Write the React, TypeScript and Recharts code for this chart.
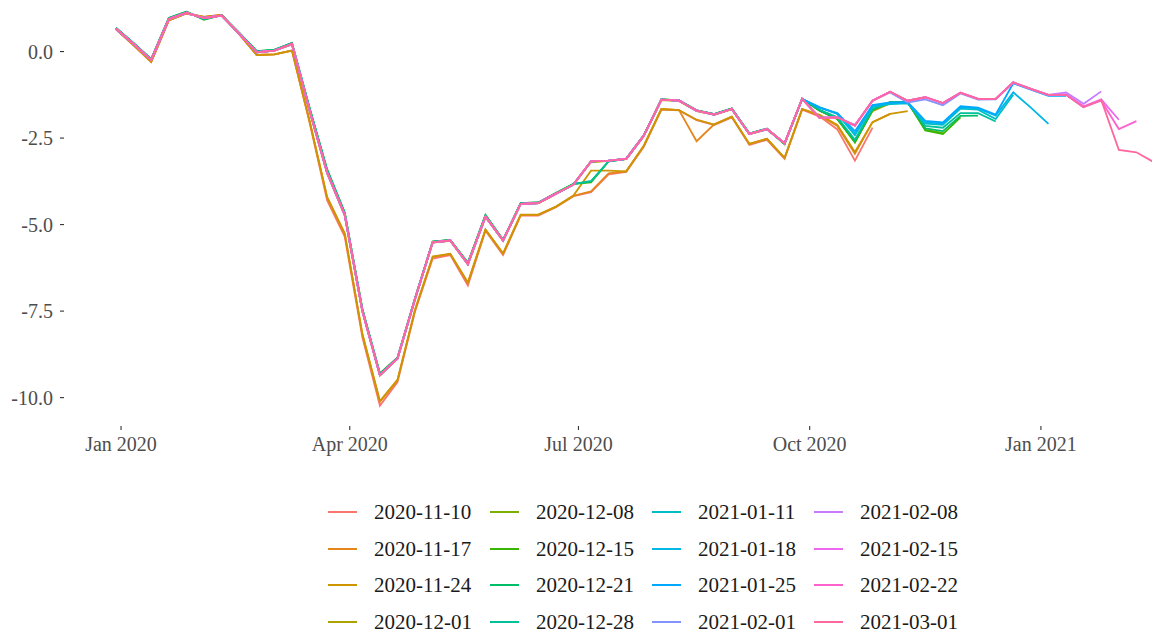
import React from 'react';
import { LineChart, Line, XAxis, YAxis } from 'recharts';

const WEEKS = [
  '2019-12-30', '2020-01-06', '2020-01-13', '2020-01-20', '2020-01-27', '2020-02-03', '2020-02-10', '2020-02-17',
  '2020-02-24', '2020-03-02', '2020-03-09', '2020-03-16', '2020-03-23', '2020-03-30', '2020-04-06', '2020-04-13',
  '2020-04-20', '2020-04-27', '2020-05-04', '2020-05-11', '2020-05-18', '2020-05-25', '2020-06-01', '2020-06-08',
  '2020-06-15', '2020-06-22', '2020-06-29', '2020-07-06', '2020-07-13', '2020-07-20', '2020-07-27', '2020-08-03',
  '2020-08-10', '2020-08-17', '2020-08-24', '2020-08-31', '2020-09-07', '2020-09-14', '2020-09-21', '2020-09-28',
  '2020-10-05', '2020-10-12', '2020-10-19', '2020-10-26', '2020-11-02', '2020-11-09', '2020-11-16', '2020-11-23',
  '2020-11-30', '2020-12-07', '2020-12-14', '2020-12-21', '2020-12-28', '2021-01-04', '2021-01-11', '2021-01-18',
  '2021-01-25', '2021-02-01', '2021-02-08', '2021-02-15',
];

const VINTAGES = [
  '2020-11-10', '2020-11-17', '2020-11-24', '2020-12-01',
  '2020-12-08', '2020-12-15', '2020-12-21', '2020-12-28',
  '2021-01-11', '2021-01-18', '2021-01-25', '2021-02-01',
  '2021-02-08', '2021-02-15', '2021-02-22', '2021-03-01',
];

const COLORS = [
  '#F8766D', '#E5861A', '#CD9600', '#ABA300',
  '#7CAE00', '#39B600', '#00BE67', '#00C19A',
  '#00BFC4', '#00B7E5', '#00A9FF', '#8494FF',
  '#C77CFF', '#EC69EF', '#FF61CC', '#FD689F',
];

const V_2020_11_10 = [0.64, 0.18, -0.3, 0.9, 1.1, 1.0, 1.06, 0.5, -0.1, -0.08, 0.03, -2.05, -4.3, -5.35, -8.25, -10.23, -9.55, -7.5, -5.98, -5.88, -6.76, -5.18, -5.88, -4.74, -4.74, -4.5, -4.18, -4.06, -3.55, -3.48, -2.75, -1.68, -1.7, -1.98, -2.12, -1.9, -2.7, -2.55, -3.1, -1.68, -1.88, -2.25, -3.15, -2.2];
const V_2020_11_17 = [0.65, 0.19, -0.29, 0.91, 1.1, 1.0, 1.06, 0.5, -0.1, -0.08, 0.03, -2.0, -4.22, -5.27, -8.17, -10.12, -9.5, -7.46, -5.93, -5.85, -6.68, -5.15, -5.84, -4.72, -4.72, -4.49, -4.17, -4.04, -3.52, -3.46, -2.72, -1.66, -1.69, -2.59, -2.1, -1.88, -2.67, -2.52, -3.07, -1.66, -1.85, -2.15, -2.95, -2.04, -1.8];
const V_2020_11_24 = [0.64, 0.18, -0.3, 0.9, 1.1, 1.0, 1.06, 0.5, -0.1, -0.08, 0.03, -2.0, -4.2, -5.25, -8.15, -10.1, -9.48, -7.45, -5.92, -5.84, -6.67, -5.14, -5.83, -4.71, -4.71, -4.48, -4.16, -3.44, -3.44, -3.46, -2.72, -1.66, -1.69, -1.97, -2.11, -1.88, -2.67, -2.52, -3.07, -1.66, -1.83, -2.12, -2.9, -2.04, -1.8, -1.72];
const V_2020_12_01 = [0.66, 0.22, -0.24, 0.94, 1.12, 0.98, 1.05, 0.52, 0.0, 0.03, 0.2, -1.72, -3.52, -4.74, -7.5, -9.36, -8.88, -7.15, -5.52, -5.47, -6.15, -4.78, -5.47, -4.41, -4.39, -4.12, -3.84, -3.2, -3.16, -3.11, -2.44, -1.4, -1.43, -1.72, -1.83, -1.67, -2.39, -2.25, -2.66, -1.37, -1.71, -1.95, -2.6, -1.72, -1.5, -1.48, -2.22];
const V_2020_12_08 = [0.67, 0.23, -0.23, 0.95, 1.13, 0.96, 1.05, 0.53, 0.0, 0.04, 0.22, -1.68, -3.48, -4.7, -7.46, -9.33, -8.86, -7.13, -5.5, -5.45, -6.12, -4.75, -5.45, -4.39, -4.37, -4.1, -3.83, -3.18, -3.15, -3.1, -2.42, -1.38, -1.41, -1.7, -1.81, -1.65, -2.37, -2.23, -2.66, -1.37, -1.71, -1.95, -2.62, -1.69, -1.46, -1.46, -2.26, -2.35];
const V_2020_12_15 = [0.68, 0.24, -0.22, 0.97, 1.15, 0.92, 1.05, 0.54, 0.01, 0.05, 0.25, -1.62, -3.4, -4.65, -7.43, -9.3, -8.84, -7.12, -5.49, -5.44, -6.1, -4.72, -5.44, -4.38, -4.36, -4.09, -3.82, -3.78, -3.17, -3.1, -2.42, -1.38, -1.41, -1.7, -1.81, -1.65, -2.37, -2.23, -2.68, -1.37, -1.71, -1.95, -2.62, -1.69, -1.46, -1.46, -2.28, -2.38, -1.9];
const V_2020_12_21 = [0.68, 0.24, -0.22, 0.97, 1.15, 0.93, 1.05, 0.54, 0.01, 0.05, 0.25, -1.63, -3.42, -4.66, -7.44, -9.31, -8.85, -7.12, -5.49, -5.44, -6.11, -4.73, -5.44, -4.38, -4.36, -4.09, -3.82, -3.76, -3.17, -3.1, -2.42, -1.38, -1.41, -1.7, -1.81, -1.65, -2.37, -2.23, -2.67, -1.37, -1.7, -1.93, -2.58, -1.68, -1.47, -1.46, -2.22, -2.3, -1.86, -1.85];
const V_2020_12_28 = [0.68, 0.24, -0.22, 0.96, 1.14, 0.94, 1.05, 0.54, 0.0, 0.05, 0.24, -1.64, -3.43, -4.67, -7.45, -9.32, -8.85, -7.13, -5.5, -5.45, -6.12, -4.74, -5.45, -4.39, -4.37, -4.1, -3.83, -3.74, -3.17, -3.1, -2.42, -1.38, -1.41, -1.7, -1.81, -1.65, -2.37, -2.23, -2.66, -1.37, -1.68, -1.9, -2.55, -1.65, -1.48, -1.47, -2.15, -2.2, -1.78, -1.78, -2.02];
const V_2021_01_11 = [0.66, 0.22, -0.24, 0.94, 1.12, 0.97, 1.04, 0.52, -0.02, 0.03, 0.22, -1.7, -3.5, -4.72, -7.49, -9.35, -8.87, -7.14, -5.51, -5.46, -6.14, -4.77, -5.46, -4.4, -4.38, -4.11, -3.84, -3.17, -3.15, -3.1, -2.43, -1.39, -1.42, -1.71, -1.82, -1.66, -2.38, -2.24, -2.65, -1.37, -1.61, -1.8, -2.42, -1.6, -1.52, -1.5, -2.08, -2.12, -1.65, -1.68, -1.95, -1.25];
const V_2021_01_18 = [0.66, 0.22, -0.24, 0.94, 1.12, 0.97, 1.04, 0.52, -0.02, 0.03, 0.22, -1.7, -3.5, -4.72, -7.49, -9.35, -8.87, -7.14, -5.51, -5.46, -6.14, -4.77, -5.46, -4.4, -4.38, -4.11, -3.84, -3.17, -3.15, -3.1, -2.43, -1.39, -1.42, -1.71, -1.82, -1.66, -2.38, -2.24, -2.65, -1.37, -1.61, -1.8, -2.38, -1.56, -1.5, -1.48, -2.04, -2.09, -1.61, -1.64, -1.85, -1.18, -1.62, -2.09];
const V_2021_01_25 = [0.66, 0.22, -0.24, 0.94, 1.12, 0.97, 1.04, 0.52, -0.02, 0.03, 0.22, -1.7, -3.5, -4.72, -7.49, -9.35, -8.87, -7.14, -5.51, -5.46, -6.14, -4.77, -5.46, -4.4, -4.38, -4.11, -3.84, -3.17, -3.15, -3.1, -2.43, -1.39, -1.42, -1.71, -1.82, -1.66, -2.38, -2.24, -2.65, -1.37, -1.63, -1.78, -2.3, -1.55, -1.47, -1.46, -2.0, -2.05, -1.58, -1.62, -1.82, -0.92, -1.1, -1.28, -1.28];
const V_2021_02_01 = [0.66, 0.22, -0.24, 0.94, 1.12, 0.97, 1.04, 0.52, -0.02, 0.03, 0.22, -1.7, -3.5, -4.72, -7.49, -9.35, -8.87, -7.14, -5.51, -5.46, -6.14, -4.77, -5.46, -4.4, -4.38, -4.11, -3.84, -3.17, -3.15, -3.1, -2.43, -1.39, -1.42, -1.71, -1.82, -1.66, -2.38, -2.24, -2.65, -1.37, -1.9, -1.9, -2.12, -1.42, -1.18, -1.47, -1.38, -1.55, -1.21, -1.39, -1.38, -0.9, -1.09, -1.26, -1.24, -1.62];
const V_2021_02_08 = [0.66, 0.22, -0.24, 0.94, 1.12, 0.97, 1.04, 0.52, -0.02, 0.03, 0.22, -1.7, -3.5, -4.72, -7.49, -9.35, -8.87, -7.14, -5.51, -5.46, -6.14, -4.77, -5.46, -4.4, -4.38, -4.11, -3.84, -3.17, -3.15, -3.1, -2.43, -1.39, -1.42, -1.71, -1.82, -1.66, -2.38, -2.24, -2.65, -1.37, -1.92, -1.9, -2.14, -1.42, -1.16, -1.42, -1.32, -1.49, -1.19, -1.37, -1.37, -0.89, -1.08, -1.25, -1.18, -1.51, -1.15];
const V_2021_02_15 = [0.66, 0.22, -0.24, 0.94, 1.12, 0.97, 1.04, 0.52, -0.02, 0.03, 0.22, -1.7, -3.5, -4.72, -7.49, -9.35, -8.87, -7.14, -5.51, -5.46, -6.14, -4.77, -5.46, -4.4, -4.38, -4.11, -3.84, -3.17, -3.15, -3.1, -2.43, -1.39, -1.42, -1.71, -1.82, -1.66, -2.38, -2.24, -2.65, -1.37, -1.92, -1.9, -2.14, -1.42, -1.16, -1.42, -1.32, -1.49, -1.19, -1.37, -1.37, -0.89, -1.08, -1.25, -1.24, -1.58, -1.38, -1.97];
const V_2021_02_22 = [0.66, 0.22, -0.24, 0.94, 1.12, 0.97, 1.04, 0.52, -0.02, 0.03, 0.22, -1.7, -3.5, -4.72, -7.49, -9.35, -8.87, -7.14, -5.51, -5.46, -6.14, -4.77, -5.46, -4.4, -4.38, -4.11, -3.84, -3.17, -3.15, -3.1, -2.43, -1.39, -1.42, -1.71, -1.82, -1.66, -2.38, -2.24, -2.65, -1.37, -1.92, -1.9, -2.14, -1.42, -1.16, -1.42, -1.32, -1.49, -1.19, -1.37, -1.37, -0.89, -1.08, -1.25, -1.25, -1.6, -1.42, -2.24, -2.01];
const V_2021_03_01 = [0.66, 0.22, -0.24, 0.94, 1.12, 0.97, 1.04, 0.52, -0.02, 0.03, 0.22, -1.7, -3.5, -4.72, -7.49, -9.35, -8.87, -7.14, -5.51, -5.46, -6.14, -4.77, -5.46, -4.4, -4.38, -4.11, -3.84, -3.17, -3.15, -3.1, -2.43, -1.39, -1.42, -1.71, -1.82, -1.66, -2.38, -2.24, -2.65, -1.37, -1.92, -1.9, -2.14, -1.42, -1.16, -1.42, -1.32, -1.49, -1.19, -1.37, -1.37, -0.89, -1.08, -1.25, -1.25, -1.61, -1.4, -2.84, -2.91, -3.2];

const SERIES = [
  V_2020_11_10, V_2020_11_17, V_2020_11_24, V_2020_12_01,
  V_2020_12_08, V_2020_12_15, V_2020_12_21, V_2020_12_28,
  V_2021_01_11, V_2021_01_18, V_2021_01_25, V_2021_02_01,
  V_2021_02_08, V_2021_02_15, V_2021_02_22, V_2021_03_01,
];

const X_TICK_DATES = ['2020-01-01', '2020-04-01', '2020-07-01', '2020-10-01', '2021-01-01'];
const X_TICK_LABELS = ['Jan 2020', 'Apr 2020', 'Jul 2020', 'Oct 2020', 'Jan 2021'];
const Y_TICKS = [-10, -7.5, -5, -2.5, 0];

const ORIGIN = Date.UTC(2020, 0, 1);
const toDay = (s: string) => (Date.parse(s + 'T00:00:00Z') - ORIGIN) / 86400000;
const X_TICKS = X_TICK_DATES.map(toDay);

const data = WEEKS.map((w, i) => {
  const row: Record<string, number | null> = { day: toDay(w) };
  SERIES.forEach((arr, k) => {
    row['s' + k] = i < arr.length ? arr[i] : null;
  });
  return row;
});

const FONT = "'Liberation Serif', 'Times New Roman', serif";

function LegendBox() {
  return (
    <div style={{ position: 'absolute', left: 0, top: 0, width: 1152, height: 638, pointerEvents: 'none' }}>
      {VINTAGES.map((name, k) => {
        const col = Math.floor(k / 4);
        const row = k % 4;
        const cy = 512 + row * 36.6;
        const lx = 328 + col * 162;
        const tx = 374 + col * 162;
        return (
          <React.Fragment key={name}>
            <div style={{ position: 'absolute', left: lx, top: cy - 1, width: 29, height: 2, background: COLORS[k] }} />
            <div style={{ position: 'absolute', left: tx, top: cy - 12, height: 24, lineHeight: '24px', fontFamily: FONT, fontSize: 21, color: '#1a1a1a', whiteSpace: 'nowrap' }}>
              {name}
            </div>
          </React.Fragment>
        );
      })}
    </div>
  );
}

export default function App() {
  return (
    <div style={{ position: 'absolute', left: 0, top: 0, width: 1152, height: 638, overflow: 'hidden', background: '#ffffff' }}>
      <LineChart width={1152} height={638} data={data} margin={{ top: 0, right: 0, bottom: 0, left: 0 }}>
        <XAxis
          type="number"
          dataKey="day"
          domain={[-22.7, 410.2]}
          allowDataOverflow
          ticks={X_TICKS}
          interval={0}
          tickFormatter={(v: number) => X_TICK_LABELS[X_TICKS.indexOf(v)] ?? ''}
          axisLine={false}
          tickSize={4}
          tickMargin={7}
          height={212}
          tick={{ fontSize: 20, fill: '#4d4d4d', fontFamily: FONT }}
          tickLine={{ stroke: '#333333', strokeWidth: 1.1 }}
        />
        <YAxis
          type="number"
          domain={[-10.82, 1.49]}
          allowDataOverflow
          ticks={Y_TICKS}
          interval={0}
          tickFormatter={(v: number) => v.toFixed(1)}
          axisLine={false}
          tickSize={4}
          tickMargin={7}
          width={64}
          tick={{ fontSize: 20, fill: '#4d4d4d', fontFamily: FONT }}
          tickLine={{ stroke: '#333333', strokeWidth: 1.1 }}
        />
        {VINTAGES.map((name, k) => (
          <Line
            key={name}
            type="linear"
            dataKey={'s' + k}
            name={name}
            stroke={COLORS[k]}
            strokeWidth={1.8}
            dot={false}
            activeDot={false}
            connectNulls={false}
            isAnimationActive={false}
          />
        ))}
      </LineChart>
      <LegendBox />
    </div>
  );
}
